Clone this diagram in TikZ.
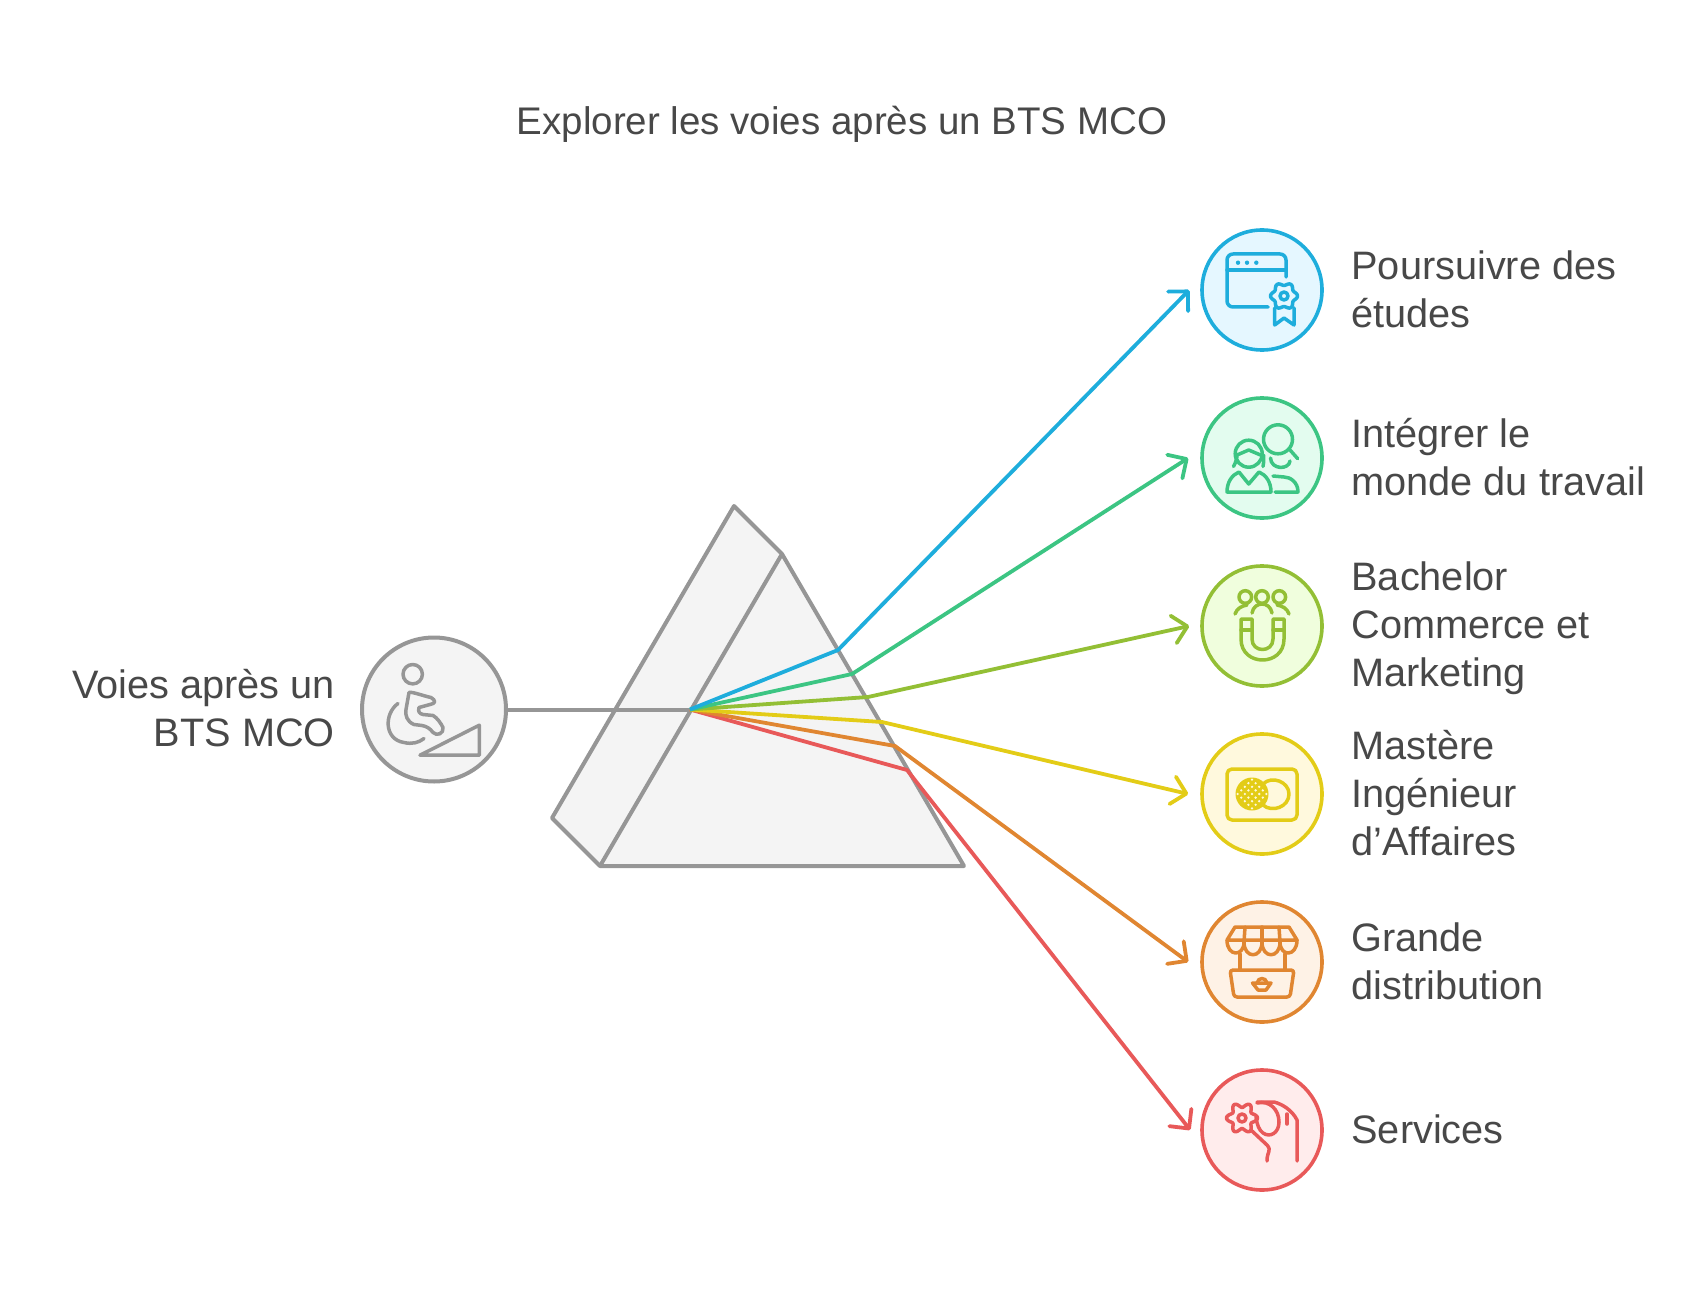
\documentclass[tikz,border=0pt]{standalone}
\usepackage{fontspec}
\setmainfont{Liberation Sans}
\usetikzlibrary{positioning}
\usetikzlibrary{arrows.meta}
\definecolor{inkgray}{HTML}{484848}
\definecolor{prismgray}{HTML}{969696}
\definecolor{prismfill}{HTML}{F4F4F4}
\definecolor{blueray}{HTML}{1EADDC}
\definecolor{bluefill}{HTML}{E5F7FF}
\definecolor{greenray}{HTML}{3CC583}
\definecolor{greenfill}{HTML}{E3FCEF}
\definecolor{limeray}{HTML}{93BF35}
\definecolor{limefill}{HTML}{F0FEDD}
\definecolor{yellowray}{HTML}{E3CC17}
\definecolor{yellowfill}{HTML}{FFF9DD}
\definecolor{orangeray}{HTML}{E08631}
\definecolor{orangefill}{HTML}{FEF2E6}
\definecolor{redray}{HTML}{E85959}
\definecolor{redfill}{HTML}{FFECEC}
\tikzset{
  >={Straight Barb[length=14pt,width=28pt,line width=3.8pt,round]},
  bubble/.style={circle,line width=3.6pt,minimum size=120pt,inner sep=0pt},
  tag/.style={font=\fontsize{39.7}{48}\selectfont,text=inkgray,align=left,inner sep=0pt,yshift=1pt},
  ray/.style={line width=3.8pt,line join=round},
  iconline/.style={line width=3.5pt,line cap=round,line join=round}
}
\begin{document}
\begin{tikzpicture}[x=1pt,y=-1pt]
  \useasboundingbox (0,0) rectangle (1708,1289);
  \node[tag,font=\fontsize{38.5}{48}\selectfont,yshift=-3pt] (title) at (842,122) {Explorer les voies après un BTS MCO};
  % prism
  \coordinate (apexback) at (734,506);
  \coordinate (apex) at (782,554);
  \coordinate (baseright) at (964,866);
  \coordinate (baseleft) at (600,866);
  \coordinate (backleft) at (552,818);
  \draw[prismgray,fill=prismfill,line width=4pt,line join=round] (apexback) -- (apex) -- (baseright) -- (baseleft) -- (backleft) -- cycle;
  \draw[prismgray,line width=4pt] (apex) -- (baseleft);
  % circles
  \node[bubble,draw=prismgray,fill=prismfill,minimum size=144pt,line width=4pt] (source) at (434,709.5) {};
  \node[bubble,draw=blueray,fill=bluefill] (etudes) at (1262,290) {};
  \node[bubble,draw=greenray,fill=greenfill] (travail) at (1262,458) {};
  \node[bubble,draw=limeray,fill=limefill] (bachelor) at (1262,626) {};
  \node[bubble,draw=yellowray,fill=yellowfill] (mastere) at (1262,794) {};
  \node[bubble,draw=orangeray,fill=orangefill] (grande) at (1262,962) {};
  \node[bubble,draw=redray,fill=redfill] (services) at (1262,1130) {};
  % labels
  \node[tag,left=25pt of source,align=right,yshift=0pt] (sourcetag) {Voies après un\\BTS MCO};
  \node[tag,right=27.5pt of etudes] (etudestag) {Poursuivre des\\études};
  \node[tag,right=27.5pt of travail] (travailtag) {Intégrer le\\monde du travail};
  \node[tag,right=27.5pt of bachelor,yshift=-3pt] (bachelortag) {Bachelor\\Commerce et\\Marketing};
  \node[tag,right=27.5pt of mastere] (masteretag) {Mastère\\Ingénieur\\d’Affaires};
  \node[tag,right=27.5pt of grande] (grandetag) {Grande\\distribution};
  \node[tag,right=27.5pt of services] (servicestag) {Services};
  % rays
  \coordinate (focus) at (690,709.5);
  \draw[prismgray,line width=4pt] (source) -- (focus);
  \coordinate (exitred) at (907,770);
  \coordinate (exitorange) at (895,746);
  \coordinate (exityellow) at (882,722);
  \coordinate (exitlime) at (868,697);
  \coordinate (exitgreen) at (852,674);
  \coordinate (exitblue) at (838,650);
  \draw[->,ray,redray] (focus) -- (exitred) -- ([xshift=-10pt]services.west);
  \draw[->,ray,orangeray] (focus) -- (exitorange) -- ([xshift=-12pt]grande.west);
  \draw[->,ray,yellowray] (focus) -- (exityellow) -- ([xshift=-12pt]mastere.west);
  \draw[->,ray,limeray] (focus) -- (exitlime) -- ([xshift=-11pt]bachelor.west);
  \draw[->,ray,greenray] (focus) -- (exitgreen) -- ([xshift=-12pt]travail.west);
  \draw[->,ray,blueray] (focus) -- (exitblue) -- ([xshift=-11pt]etudes.west);
  % ramp icon
  \begin{scope}[shift={(source)},iconline,prismgray]
    \draw (-21.3,-35.3) circle[radius=9.7];
    \draw (-25,-17) .. controls (-22,-18) and (-12,-14) .. (-3,-12) .. controls (2,-9) and (2,-6) .. (-4,-5) -- (-15,-2) .. controls (-16,2) and (-15,4) .. (-11,5) -- (-1,6) .. controls (3,8) and (7,14) .. (9,18) .. controls (10,24) and (3,27) .. (-1,23) .. controls (-4,19) and (-7,17) .. (-12,16) -- (-20,15) .. controls (-27,12) and (-29,6) .. (-28,0) -- cycle;
    \draw (-36,-6) .. controls (-50,4) and (-50,30) .. (-30,33) .. controls (-22,35) and (-15,33) .. (-10,29);
    \draw (-14,45.7) -- (45.3,15.7) -- (45.3,45.7) -- cycle;
  \end{scope}
  % diploma icon
  \begin{scope}[shift={(etudes)},iconline,blueray]
    \draw[rounded corners=6pt] (24,-13) -- (24,-36) -- (-35,-36) -- (-35,17) -- (6,17);
    \draw (-35,-20) -- (24,-20);
    \foreach \dotx in {-24,-15,-5.7}
      \fill (\dotx,-27.3) circle[radius=2.2];
    \draw[smooth,samples=73,domain=0:360] plot({22+(12+1.5*cos(6*\x))*cos(\x)},{6+(12+1.5*cos(6*\x))*sin(\x)}) -- cycle;
    \draw (22,6) circle[radius=4];
    \draw (12.7,18) -- (12.7,35) -- (22,28) -- (32,35) -- (32,18);
  \end{scope}
  % recruiter icon
  \begin{scope}[shift={(travail)},iconline,greenray]
    \draw (16,-18.7) circle[radius=14.5];
    \draw (28.3,-7.7) -- (35.7,0.7);
    \draw (-13.3,-4.3) circle[radius=13.5];
    \draw (-28.5,8.5) .. controls (-26,4) and (-25,0) .. (-25,-3);
    \draw (1.5,-3) .. controls (1.5,0) and (2,4) .. (1,8.5);
    \draw (-25,-3) -- (-13.3,-8) -- (-1.5,-3);
    \draw (-35,34) .. controls (-35,24) and (-30,17) .. (-23,14) -- (-13.3,26) -- (-3,14) .. controls (4,17) and (9,24) .. (9,34) -- cycle;
    \draw (8.5,0) .. controls (9,12) and (27,12) .. (28,3);
    \draw (13,34) -- (36,34) .. controls (36,24) and (28,19) .. (22,19) -- (11,18);
  \end{scope}
  % magnet icon
  \begin{scope}[shift={(bachelor)},iconline,limeray]
    \foreach \headx in {-16.7,0,17.3}
      \draw (\headx,-29) circle[radius=6.3];
    \draw (-10,-13) .. controls (-8,-25) and (8,-25) .. (10,-13);
    \draw (-27,-12) .. controls (-25,-18) and (-20,-20) .. (-15,-21);
    \draw (27,-12) .. controls (25,-18) and (20,-20) .. (15,-21);
    \draw (-21,-7) -- (-10,-7) -- (-10,13) .. controls (-10,27) and (11,27) .. (11,13) -- (11,-7) -- (22,-7) -- (22,13) .. controls (22,41) and (-21,41) .. (-21,13) -- cycle;
    \draw (-21,4) -- (-10,4);
    \draw (11,4) -- (22,4);
  \end{scope}
  % card icon
  \begin{scope}[shift={(mastere)},iconline,yellowray]
    \draw[rounded corners=5pt] (-35,-25) rectangle (35,26);
    \draw (1,-10) .. controls (10,-19) and (27,-12) .. (27,0) .. controls (27,13) and (10,19) .. (1,11);
    \fill (-10,0) circle[radius=16.5];
    \foreach \gridx in {-2,...,2}
      \foreach \gridy in {-2,...,2}
        \fill[yellowfill] ({-10+3.6*(\gridx+\gridy)},{3.6*(\gridx-\gridy)}) circle[radius=1.3];
  \end{scope}
  % stall icon
  \begin{scope}[shift={(grande)},iconline,orangeray]
    \draw (-27,-35) -- (27,-35) -- (35,-22) -- (-35,-22) -- cycle;
    \draw (-35,-22) .. controls (-35,-5) and (-18,-5) .. (-18,-20) .. controls (-18,-3) and (0,-3) .. (0,-20) .. controls (0,-3) and (18,-3) .. (18,-20) .. controls (18,-5) and (35,-5) .. (35,-22);
    \draw (-17,-35) -- (-18,-20);
    \draw (0,-35) -- (0,-20);
    \draw (17,-35) -- (18,-20);
    \draw (-22,-8) -- (-22,8);
    \draw (23,-8) -- (23,8);
    \draw[rounded corners=3pt] (-32,8) -- (32,8) -- (28,35) -- (-28,35) -- cycle;
    \draw (-9.5,21) -- (9,21) -- (4,28) -- (-4,28) -- cycle;
    \draw (-5,21) .. controls (-4,15) and (4,15) .. (5,21);
  \end{scope}
  % service icon
  \begin{scope}[shift={(services)},iconline,redray]
    \draw[smooth,samples=73,domain=0:360] plot({-20+(13+2.5*cos(6*\x))*cos(\x)},{-12+(13+2.5*cos(6*\x))*sin(\x)}) -- cycle;
    \draw (-20,-12) circle[radius=4];
    \draw (-5,-27) .. controls (8,-30) and (17,-20) .. (17,-8) .. controls (17,3) and (8,8) .. (1,3) .. controls (-3,0) and (-5,-5) .. (-6,-13);
    \draw (-5,-28) -- (12,-28) .. controls (20,-26) and (30,-20) .. (35,-10) -- (35,31);
    \draw (25,-16) -- (25,-6);
    \draw (-10,1) -- (5,15) .. controls (10,21) and (5,21) .. (5,31);
  \end{scope}
\end{tikzpicture}
\end{document}
